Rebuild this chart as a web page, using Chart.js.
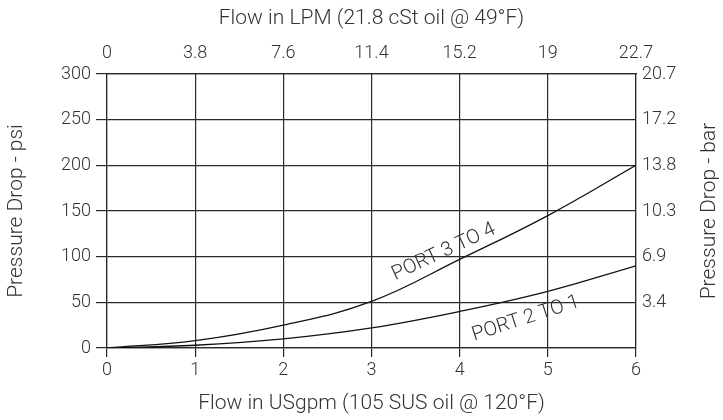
<!DOCTYPE html>
<html>
<head>
<meta charset="utf-8">
<script src="https://cdn.jsdelivr.net/npm/chart.js@4/dist/chart.umd.min.js"></script>
<style>
  body { margin: 0; background: #fff; }
</style>
</head>
<body>
<canvas id="pressureChart" width="723" height="420"></canvas>
<script>
// flow in USgpm (bottom axis)
const flowGpm = [0, 1, 2, 3, 4, 5, 6];
// pressure drop in psi
const port34Psi = [0, 8, 25, 51, 97, 145, 200];
const port21Psi = [0, 3, 10, 22, 40, 62, 90];
// secondary tick labels
const lpmLabels = ['0', '3.8', '7.6', '11.4', '15.2', '19', '22.7'];
const barLabels = ['', '3.4', '6.9', '10.3', '13.8', '17.2', '20.7'];
// curve captions: [gpm, psi, angle]
const curveNames = ['PORT 3 TO 4', 'PORT 2 TO 1'];
const captionAt = [[3.82, 105, -25], [4.75, 32, -18]];
const rightTitle = 'Pressure Drop - bar';

const FONT = "Roboto, 'Liberation Sans', sans-serif";
const INK = '#333';
const LINE = '#2a2a2a';

Chart.defaults.font.family = FONT;
Chart.defaults.font.weight = 300;
Chart.defaults.color = INK;

const toPoints = ys => flowGpm.map((x, i) => ({ x: x, y: ys[i] }));

// curve names along the lines + right axis title (reads bottom to top)
const captions = {
    id: 'captions',
    afterDatasetsDraw(chart) {
        const { ctx, scales, chartArea } = chart;
        ctx.save();
        ctx.fillStyle = INK;
        ctx.textAlign = 'center';
        ctx.textBaseline = 'middle';
        ctx.font = `300 20px ${FONT}`;
        curveNames.forEach((name, i) => {
            const [gx, py, ang] = captionAt[i];
            ctx.save();
            ctx.translate(scales.x.getPixelForValue(gx), scales.y.getPixelForValue(py));
            ctx.rotate(ang * Math.PI / 180);
            ctx.fillText(name, 0, 0);
            ctx.restore();
        });
        ctx.font = `300 21px ${FONT}`;
        ctx.translate(chart.width - 13, (chartArea.top + chartArea.bottom) / 2);
        ctx.rotate(-Math.PI / 2);
        ctx.fillText(rightTitle, 0, 0);
        ctx.restore();
    }
};

const titleFont = { size: 21 };
const tickFont = { size: 18 };

new Chart(document.getElementById('pressureChart'), {
    type: 'scatter',
    data: {
        datasets: [
            {
                label: curveNames[0],
                data: toPoints(port34Psi),
                showLine: true,
                borderColor: '#111',
                borderWidth: 1.3,
                pointRadius: 0,
                tension: 0.4
            },
            {
                label: curveNames[1],
                data: toPoints(port21Psi),
                showLine: true,
                borderColor: '#111',
                borderWidth: 1.3,
                pointRadius: 0,
                tension: 0.4
            }
        ]
    },
    options: {
        responsive: false,
        animation: false,
        layout: { padding: 0 },
        plugins: {
            legend: { display: false },
            tooltip: { enabled: false }
        },
        scales: {
            x: {
                type: 'linear',
                position: 'bottom',
                min: 0, max: 6,
                ticks: { stepSize: 1, font: tickFont, padding: 3 },
                grid: { color: LINE, lineWidth: 1.2, tickLength: 9 },
                border: { color: LINE, width: 1.2 },
                title: { display: true, text: 'Flow in USgpm (105 SUS oil @ 120°F)', font: titleFont },
                afterFit: s => { s.height = 72; }
            },
            x2: {
                type: 'linear',
                position: 'top',
                min: 0, max: 6,
                ticks: { stepSize: 1, font: tickFont, padding: 10, callback: v => lpmLabels[v] },
                grid: { drawOnChartArea: false, drawTicks: false },
                border: { color: LINE, width: 1.2 },
                title: { display: true, text: 'Flow in LPM (21.8 cSt oil @ 49°F)', font: titleFont, padding: { top: 6, bottom: 4 } },
                afterFit: s => { s.height = 74; }
            },
            y: {
                position: 'left',
                min: 0, max: 300,
                ticks: { stepSize: 50, font: tickFont, padding: 5 },
                grid: { color: LINE, lineWidth: 1.2, tickLength: 11 },
                border: { color: LINE, width: 1.2 },
                title: { display: true, text: 'Pressure Drop - psi', font: titleFont },
                afterFit: s => { s.width = 107; }
            },
            y1: {
                position: 'right',
                min: 0, max: 300,
                ticks: { stepSize: 50, font: tickFont, padding: 6, callback: v => barLabels[v / 50] },
                grid: { drawOnChartArea: false, drawTicks: false },
                border: { color: LINE, width: 1.2 },
                afterFit: s => { s.width = 87; }
            }
        }
    },
    plugins: [captions]
});
</script>
</body>
</html>
